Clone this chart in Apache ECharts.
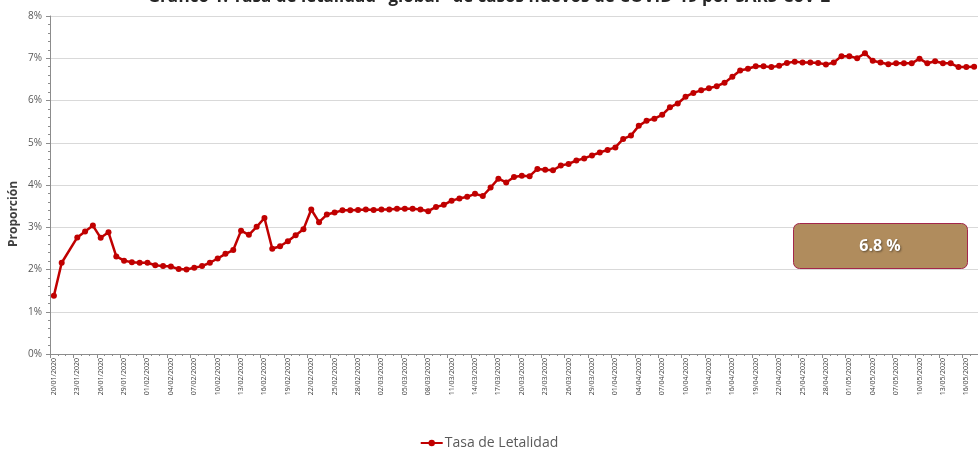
<!DOCTYPE html>
<html>
<head>
<meta charset="utf-8">
<script src="https://cdn.jsdelivr.net/npm/echarts@6/dist/echarts.min.js"></script>
<style>
  html, body { margin: 0; padding: 0; background: #ffffff; }
  #chart { width: 978px; height: 449px; }
</style>
</head>
<body>
<div id="chart"></div>
<script>
// ---- data ----
const titleBold = 'Gráfico 1.';
const titleText = ' Tasa de letalidad "global" de casos nuevos de COVID-19 por SARS-CoV-2';
const yAxisTitle = 'Proporción';
const seriesName = 'Tasa de Letalidad';
const annotationText = '6.8 %';

const dates = [
  '20/01/2020','21/01/2020','22/01/2020','23/01/2020','24/01/2020','25/01/2020','26/01/2020','27/01/2020','28/01/2020','29/01/2020','30/01/2020','31/01/2020',
  '01/02/2020','02/02/2020','03/02/2020','04/02/2020','05/02/2020','06/02/2020','07/02/2020','08/02/2020','09/02/2020','10/02/2020',
  '11/02/2020','12/02/2020','13/02/2020','14/02/2020','15/02/2020','16/02/2020','17/02/2020','18/02/2020','19/02/2020','20/02/2020',
  '21/02/2020','22/02/2020','23/02/2020','24/02/2020','25/02/2020','26/02/2020','27/02/2020','28/02/2020','29/02/2020',
  '01/03/2020','02/03/2020','03/03/2020','04/03/2020','05/03/2020','06/03/2020','07/03/2020','08/03/2020','09/03/2020','10/03/2020',
  '11/03/2020','12/03/2020','13/03/2020','14/03/2020','15/03/2020','16/03/2020','17/03/2020','18/03/2020','19/03/2020','20/03/2020',
  '21/03/2020','22/03/2020','23/03/2020','24/03/2020','25/03/2020','26/03/2020','27/03/2020','28/03/2020','29/03/2020','30/03/2020','31/03/2020',
  '01/04/2020','02/04/2020','03/04/2020','04/04/2020','05/04/2020','06/04/2020','07/04/2020','08/04/2020','09/04/2020','10/04/2020',
  '11/04/2020','12/04/2020','13/04/2020','14/04/2020','15/04/2020','16/04/2020','17/04/2020','18/04/2020','19/04/2020','20/04/2020',
  '21/04/2020','22/04/2020','23/04/2020','24/04/2020','25/04/2020','26/04/2020','27/04/2020','28/04/2020','29/04/2020','30/04/2020',
  '01/05/2020','02/05/2020','03/05/2020','04/05/2020','05/05/2020','06/05/2020','07/05/2020','08/05/2020','09/05/2020','10/05/2020',
  '11/05/2020','12/05/2020','13/05/2020','14/05/2020','15/05/2020','16/05/2020','17/05/2020'
];

// percent values (null = no reported value, line connects across)
const tasaLetalidad = [
  1.38, 2.16, null, 2.76, 2.90, 3.04, 2.75, 2.88, 2.31, 2.21, 2.17, 2.16,
  2.16, 2.10, 2.08, 2.07, 2.01, 2.00, 2.04, 2.08, 2.16, 2.26,
  2.37, 2.46, 2.92, 2.82, 3.01, 3.22, 2.49, 2.55, 2.67, 2.81,
  2.95, 3.42, 3.12, 3.30, 3.35, 3.40, 3.40, 3.41, 3.42,
  3.41, 3.42, 3.42, 3.44, 3.44, 3.44, 3.42, 3.38, 3.48, 3.53,
  3.63, 3.68, 3.72, 3.79, 3.74, 3.94, 4.15, 4.06, 4.19, 4.22,
  4.21, 4.38, 4.36, 4.35, 4.46, 4.50, 4.58, 4.63, 4.70, 4.77, 4.83,
  4.89, 5.09, 5.17, 5.40, 5.52, 5.57, 5.66, 5.84, 5.93, 6.09,
  6.18, 6.24, 6.29, 6.34, 6.42, 6.56, 6.71, 6.75, 6.81, 6.81,
  6.79, 6.82, 6.89, 6.92, 6.90, 6.90, 6.89, 6.85, 6.90, 7.05,
  7.05, 7.00, 7.12, 6.94, 6.90, 6.86, 6.88, 6.88, 6.88, 6.99,
  6.88, 6.93, 6.88, 6.88, 6.79, 6.79, 6.80
];

const yMin = 0, yMax = 8, yStep = 1;

// ---- chart ----
const FONT = '"Open Sans", "Noto Sans", sans-serif';
const chart = echarts.init(document.getElementById('chart'), null, { renderer: 'canvas' });

const option = {
  backgroundColor: '#ffffff',
  animation: false,
  textStyle: { fontFamily: FONT },
  title: {
    text: '{b|' + titleBold + '}{n|' + titleText + '}',
    left: 'center',
    top: -16,
    textStyle: {
      rich: {
        b: { fontFamily: FONT, fontWeight: 'bold', fontSize: 17, color: '#262626' },
        n: { fontFamily: FONT, fontSize: 17, color: '#262626' }
      }
    }
  },
  legend: {
    bottom: -6,
    left: 'center',
    itemWidth: 22,
    itemHeight: 8,
    itemGap: 4,
    textStyle: { fontFamily: FONT, fontSize: 14, color: '#595959', padding: [0, 0, 0, -3] },
    data: [seriesName]
  },
  grid: { left: 50, right: -4, top: 16, bottom: 95, containLabel: false },
  xAxis: [
    {
      type: 'category',
      data: dates,
      boundaryGap: true,
      axisLine: { lineStyle: { color: '#8c8c8c', width: 1 } },
      axisTick: { show: true, interval: 2, length: 4, lineStyle: { color: '#8c8c8c' } },
      axisLabel: {
        interval: 2,
        rotate: 90,
        fontSize: 7,
        color: '#404040',
        margin: 4,
        fontFamily: FONT
      },
      splitLine: { show: false }
    },
    {
      type: 'category',
      data: dates,
      boundaryGap: true,
      position: 'bottom',
      axisLine: { show: false },
      axisTick: { show: true, interval: 0, length: 2, lineStyle: { color: '#8c8c8c' } },
      axisLabel: { show: false },
      splitLine: { show: false }
    }
  ],
  yAxis: {
    type: 'value',
    min: yMin,
    max: yMax,
    interval: yStep,
    axisLine: { show: true, lineStyle: { color: '#8c8c8c', width: 1 } },
    axisTick: { show: true, length: 4, lineStyle: { color: '#8c8c8c' } },
    minorTick: { show: true, splitNumber: 5, length: 2, lineStyle: { color: '#8c8c8c' } },
    axisLabel: {
      formatter: '{value}%',
      fontSize: 10,
      color: '#595959',
      margin: 8,
      fontFamily: FONT
    },
    splitLine: { show: true, lineStyle: { color: '#d9d9d9', width: 1 } }
  },
  graphic: [
    {
      type: 'text',
      x: 14,
      y: 214,
      rotation: Math.PI / 2,
      style: {
        text: yAxisTitle,
        font: 'bold 12px ' + FONT,
        fill: '#404040',
        align: 'center',
        verticalAlign: 'middle'
      }
    },
    {
      type: 'group',
      left: 793,
      top: 223,
      z: 100,
      children: [
        {
          type: 'rect',
          z: 100,
          shape: { x: 0.5, y: 0.5, width: 174, height: 45, r: 6 },
          style: { fill: '#b08c5d', stroke: '#a3264b', lineWidth: 1 }
        },
        {
          type: 'text',
          z: 101,
          x: 87,
          y: 23,
          style: {
            text: annotationText,
            font: 'bold 16px ' + FONT,
            fill: '#ffffff',
            align: 'center',
            verticalAlign: 'middle',
            textShadowColor: 'rgba(0,0,0,0.45)',
            textShadowBlur: 2,
            textShadowOffsetX: 1,
            textShadowOffsetY: 1
          }
        }
      ]
    }
  ],
  series: [
    {
      name: seriesName,
      type: 'line',
      xAxisIndex: 0,
      data: tasaLetalidad,
      connectNulls: true,
      symbol: 'circle',
      symbolSize: 6,
      showSymbol: true,
      showAllSymbol: true,
      lineStyle: { color: '#c00000', width: 2.5 },
      itemStyle: { color: '#c00000' },
      z: 5
    }
  ]
};

chart.setOption(option);
</script>
</body>
</html>
